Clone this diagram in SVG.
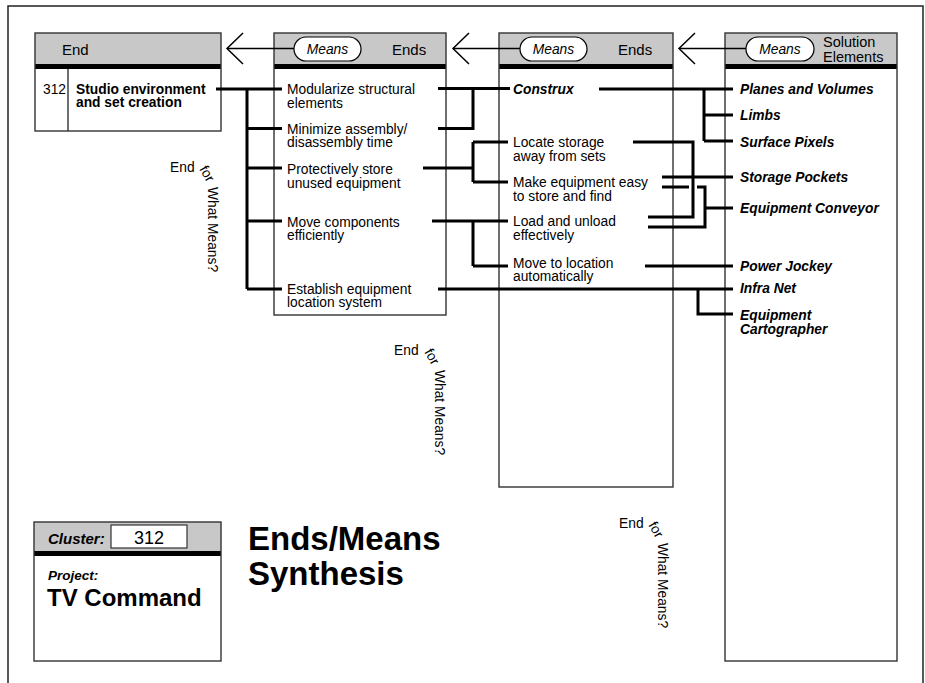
<svg xmlns="http://www.w3.org/2000/svg" width="925" height="683" viewBox="0 0 925 683">
<style>
.frame{fill:none;stroke:#222;stroke-width:1.5}
.box{fill:none;stroke:#333;stroke-width:1.4}
.bg{fill:#fff}
.hdr{fill:#c8c8c8}
.bar{fill:#000}
.conn{stroke:#000;stroke-width:3;fill:none}
.arr{stroke:#000;stroke-width:1.5;fill:none}
.pill{fill:#fff;stroke:#000;stroke-width:1.2}
text{font-family:"Liberation Sans",Arial,Helvetica,sans-serif;fill:#000}
.t{font-size:13.8px}
.b{font-size:13.8px;font-weight:bold}
.bi{font-size:13.8px;font-weight:bold;font-style:italic}
.h{font-size:15px}
.h2{font-size:14.5px}
.pm{font-size:13.8px;font-style:italic}
.lab{font-size:13.8px}
</style>
<rect class="frame" x="8" y="6" width="915" height="720"/>

<g id="col1">
<rect class="bg" x="35" y="33" width="186" height="98"/>
<rect class="hdr" x="35" y="33" width="186" height="31"/>
<rect class="bar" x="35" y="64" width="186" height="5"/>
<line class="box" x1="68" y1="69" x2="68" y2="131"/>
<rect class="box" x="35" y="33" width="186" height="98"/>
<text class="h" x="62" y="55">End</text>
<text class="t" x="43" y="94">312</text>
<text class="b" x="76" y="93.5">Studio environment</text>
<text class="b" x="76" y="107">and set creation</text>
</g>

<g id="col2">
<rect class="bg" x="274" y="33" width="172" height="282"/>
<rect class="hdr" x="274" y="33" width="172" height="31"/>
<rect class="bar" x="274" y="64" width="172" height="5"/>
<rect class="box" x="274" y="33" width="172" height="282"/>
<rect class="pill" x="294" y="37" width="67" height="24" rx="12"/>
<text class="pm" x="327.5" y="54" text-anchor="middle">Means</text>
<text class="h" x="392" y="55">Ends</text>
<text class="t" x="287" y="94">Modularize structural</text>
<text class="t" x="287" y="107.5">elements</text>
<text class="t" x="287" y="133.5">Minimize assembly/</text>
<text class="t" x="287" y="147">disassembly time</text>
<text class="t" x="287" y="174">Protectively store</text>
<text class="t" x="287" y="187.5">unused equipment</text>
<text class="t" x="287" y="226.5">Move components</text>
<text class="t" x="287" y="240">efficiently</text>
<text class="t" x="287" y="293.5">Establish equipment</text>
<text class="t" x="287" y="307">location system</text>
</g>

<g id="col3">
<rect class="bg" x="499" y="33" width="174" height="454"/>
<rect class="hdr" x="499" y="33" width="174" height="31"/>
<rect class="bar" x="499" y="64" width="174" height="5"/>
<rect class="box" x="499" y="33" width="174" height="454"/>
<rect class="pill" x="520" y="37" width="67" height="24" rx="12"/>
<text class="pm" x="553.5" y="54" text-anchor="middle">Means</text>
<text class="h" x="618" y="55">Ends</text>
<text class="bi" x="513" y="94">Construx</text>
<text class="t" x="513" y="147">Locate storage</text>
<text class="t" x="513" y="160.5">away from sets</text>
<text class="t" x="513" y="187">Make equipment easy</text>
<text class="t" x="513" y="200.5">to store and find</text>
<text class="t" x="513" y="226">Load and unload</text>
<text class="t" x="513" y="239.5">effectively</text>
<text class="t" x="513" y="267.5">Move to location</text>
<text class="t" x="513" y="281">automatically</text>
</g>

<g id="col4">
<rect class="bg" x="725" y="33" width="172" height="628"/>
<rect class="hdr" x="725" y="33" width="172" height="31"/>
<rect class="bar" x="725" y="64" width="172" height="5"/>
<rect class="box" x="725" y="33" width="172" height="628"/>
<rect class="pill" x="746" y="37" width="68" height="24" rx="12"/>
<text class="pm" x="780" y="54" text-anchor="middle">Means</text>
<text class="h2" x="823" y="47">Solution</text>
<text class="h2" x="823" y="61.5">Elements</text>
<text class="bi" x="740" y="94">Planes and Volumes</text>
<text class="bi" x="740" y="120">Limbs</text>
<text class="bi" x="740" y="146.5">Surface Pixels</text>
<text class="bi" x="740" y="182">Storage Pockets</text>
<text class="bi" x="740" y="213">Equipment Conveyor</text>
<text class="bi" x="740" y="271">Power Jockey</text>
<text class="bi" x="740" y="293">Infra Net</text>
<text class="bi" x="740" y="320">Equipment</text>
<text class="bi" x="740" y="333.5">Cartographer</text>
</g>

<g id="connectors">
<polyline class="arr" points="243,33 227,48.5 243,64"/>
<line class="arr" x1="227" y1="48.5" x2="294" y2="48.5"/>
<polyline class="arr" points="469,33 453,48.5 469,64"/>
<line class="arr" x1="453" y1="48.5" x2="520" y2="48.5"/>
<polyline class="arr" points="695,33 679,48.5 695,64"/>
<line class="arr" x1="679" y1="48.5" x2="746" y2="48.5"/>

<path class="conn" d="M216,89 H282 M247,89 V289 M247,128.5 H282 M247,168 H282 M247,221 H282 M247,289 H282"/>
<path class="conn" d="M438,88.5 H510 M438,128.5 H473 V88.5"/>
<path class="conn" d="M423,168 H473 M473,142 V182 M473,142 H508 M473,182 H508"/>
<path class="conn" d="M432,221 H473 V266 M473,221 H508 M473,266 H508"/>
<path class="conn" d="M438,289 H733 M698,289 V314 H733"/>
<path class="conn" d="M599,89 H733 M704,89 V141 M704,115 H733 M704,141 H733"/>
<path class="conn" d="M633,142 H693 V217 H648"/>
<path class="conn" d="M662,177 H733 M662,187 H689 M697,187 H705 V227 H648 M705,208 H733"/>
<path class="conn" d="M645,266 H733"/>
</g>

<g id="label1">
<text class="lab" x="170" y="172">End</text>
<text class="lab" transform="translate(199,169) rotate(60)">for</text>
<text class="lab" transform="translate(208,187) rotate(90)">What Means?</text>
</g>
<g id="label2">
<text class="lab" x="394" y="355">End</text>
<text class="lab" transform="translate(424,352) rotate(60)">for</text>
<text class="lab" transform="translate(435,370) rotate(90)">What Means?</text>
</g>
<g id="label3">
<text class="lab" x="619" y="528">End</text>
<text class="lab" transform="translate(648,525) rotate(60)">for</text>
<text class="lab" transform="translate(658,543) rotate(90)">What Means?</text>
</g>

<g id="cluster">
<rect class="bg" x="34" y="522" width="187" height="139"/>
<rect class="hdr" x="34" y="522" width="187" height="29"/>
<rect class="bar" x="34" y="551" width="187" height="5"/>
<rect class="box" x="34" y="522" width="187" height="139"/>
<rect x="111" y="525" width="76" height="23" fill="#fff" stroke="#333" stroke-width="1.2"/>
<text x="48" y="544" style="font-size:15px;font-weight:bold;font-style:italic">Cluster:</text>
<text x="149" y="544" text-anchor="middle" style="font-size:18px">312</text>
<text x="48" y="580" style="font-size:13.5px;font-weight:bold;font-style:italic">Project:</text>
<text x="47" y="606" style="font-size:24px;font-weight:bold">TV Command</text>
</g>

<g id="title">
<text x="248" y="550" style="font-size:33px;font-weight:bold">Ends/Means</text>
<text x="248" y="585" style="font-size:33px;font-weight:bold">Synthesis</text>
</g>
</svg>
